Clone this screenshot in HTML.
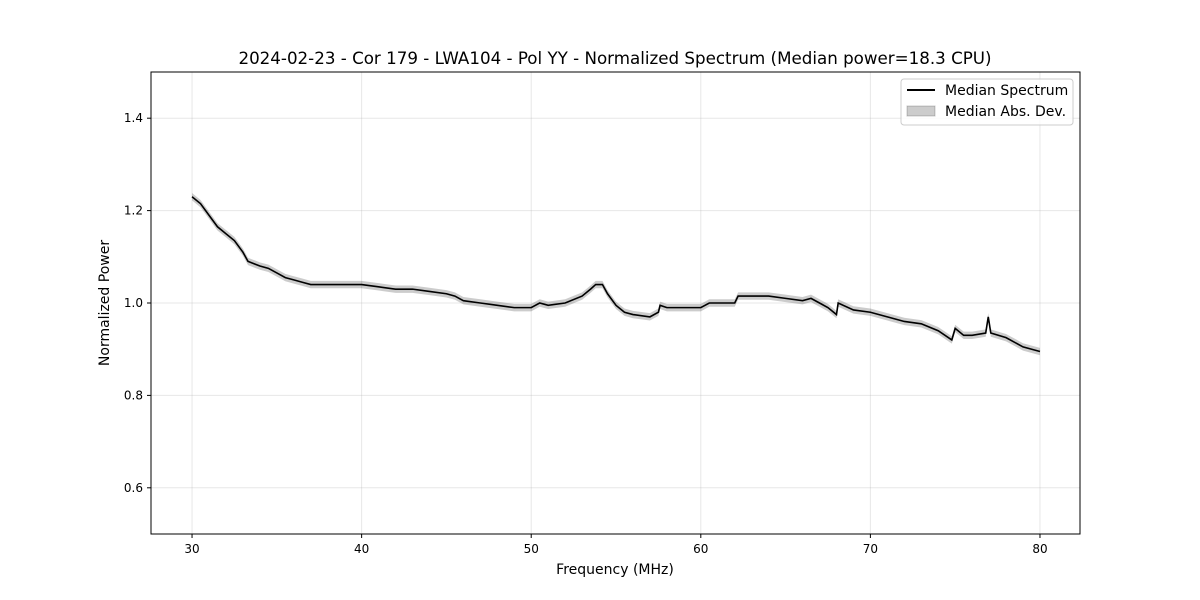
<!DOCTYPE html>
<html><head><meta charset="utf-8"><style>
html,body{margin:0;padding:0;background:#fff;}
svg{display:block;font-family:"DejaVu Sans","Liberation Sans",sans-serif;}
</style></head><body>
<svg id="chart" width="1200" height="600">
<rect width="1200" height="600" fill="#fff"/>
<text x="615" y="64" text-anchor="middle" font-size="16.7">2024-02-23 - Cor 179 - LWA104 - Pol YY - Normalized Spectrum (Median power=18.3 CPU)</text>
<g id="grid"></g><g id="marks"></g><g id="axes"></g>
<rect x="151" y="72" width="929" height="462" fill="none" stroke="#000" stroke-width="1"/>
<text x="615" y="574" text-anchor="middle" font-size="14">Frequency (MHz)</text>
<text x="109" y="303" text-anchor="middle" font-size="14" transform="rotate(-90 109 303)">Normalized Power</text>
<g>
<rect x="901" y="79" width="172" height="46" rx="3" fill="#fff" fill-opacity="0.8" stroke="#ccc"/>
<line x1="907" y1="90" x2="935" y2="90" stroke="#000" stroke-width="2"/>
<text x="945" y="95" font-size="14">Median Spectrum</text>
<rect x="907" y="106" width="28" height="10" fill="#000" fill-opacity="0.2" stroke="#000" stroke-opacity="0.2"/>
<text x="945" y="116" font-size="14">Median Abs. Dev.</text>
</g>
</svg>
<script>
const freqs=[30,30.5,31,31.5,32,32.5,33,33.3,34,34.5,35,35.5,36,36.5,37,38,39,40,41,42,43,44,45,45.5,46,47,48,49,50,50.5,51,52,53,53.5,53.8,54.2,54.5,55,55.5,56,57,57.5,57.6,58,59,60,60.5,61,62,62.2,63,64,65,66,66.5,67,67.5,68,68.1,69,70,71,72,73,74,74.8,75,75.5,76,76.8,76.95,77.1,78,79,80];
const power=[1.23,1.215,1.19,1.165,1.15,1.135,1.11,1.09,1.08,1.075,1.065,1.055,1.05,1.045,1.04,1.04,1.04,1.04,1.035,1.03,1.03,1.025,1.02,1.015,1.005,1.0,0.995,0.99,0.99,1.0,0.995,1.0,1.015,1.03,1.04,1.04,1.02,0.995,0.98,0.975,0.97,0.98,0.995,0.99,0.99,0.99,1.0,1.0,1.0,1.015,1.015,1.015,1.01,1.005,1.01,1.0,0.99,0.975,1.0,0.985,0.98,0.97,0.96,0.955,0.94,0.92,0.945,0.93,0.93,0.935,0.97,0.935,0.925,0.905,0.895];
const mad=0.008;
const xTicks=[30,40,50,60,70,80];
const yTicks=[0.6,0.8,1.0,1.2,1.4];
const X0=151,X1=1080,Y0=534,Y1=72,xmin=27.58,xmax=82.36,ymin=0.5,ymax=1.5;
const sx=v=>X0+(v-xmin)/(xmax-xmin)*(X1-X0);
const sy=v=>Y0-(v-ymin)/(ymax-ymin)*(Y0-Y1);
const NS="http://www.w3.org/2000/svg";
const mk=(t,a,p)=>{const e=document.createElementNS(NS,t);for(const k in a)e.setAttribute(k,a[k]);p.appendChild(e);return e;};
const grid=document.getElementById('grid'),axes=document.getElementById('axes'),marks=document.getElementById('marks');
xTicks.forEach(t=>{const x=sx(t);
 const g=mk('line',{x1:x,x2:x,y1:Y1,y2:Y0,stroke:'#b0b0b0','stroke-opacity':0.3},grid);
 
 
 const tk=mk('line',{x1:x,x2:x,y1:Y0,y2:Y0+4,stroke:'#000'},axes);
 
 
 const l=mk('text',{x:x,y:Y0+19,'text-anchor':'middle','font-size':12},axes);l.textContent=t;
 
 
});
yTicks.forEach(t=>{const y=sy(t);
 const g=mk('line',{x1:X0,x2:X1,y1:y,y2:y,stroke:'#b0b0b0','stroke-opacity':0.3},grid);
 
 
 const tk=mk('line',{x1:X0-4,x2:X0,y1:y,y2:y,stroke:'#000'},axes);
 
 
 const l=mk('text',{x:X0-8,y:y+4,'text-anchor':'end','font-size':12},axes);l.textContent=t.toFixed(1);
 
 
});
let up=freqs.map((f,i)=>sx(f)+','+sy(power[i]+mad));
let dn=freqs.map((f,i)=>sx(f)+','+sy(power[i]-mad)).reverse();
const band=mk('polygon',{points:up.concat(dn).join(' '),fill:'#000','fill-opacity':0.2},marks);


const line=mk('polyline',{points:freqs.map((f,i)=>sx(f)+','+sy(power[i])).join(' '),fill:'none',stroke:'#000','stroke-width':1.6},marks);


</script>
</body></html>
